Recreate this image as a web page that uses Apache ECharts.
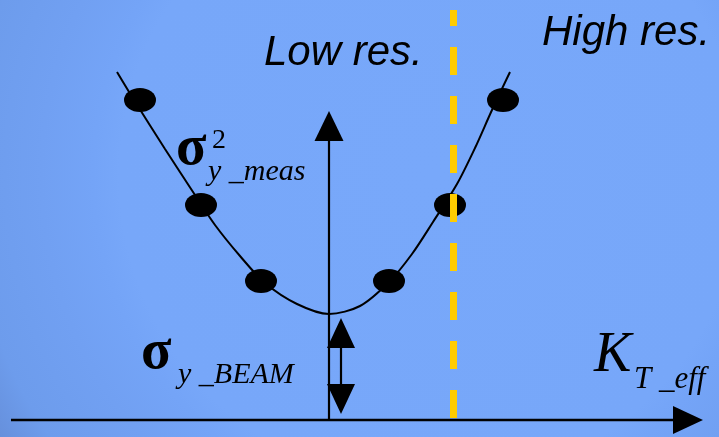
<!DOCTYPE html>
<html>
<head>
<meta charset="utf-8">
<style>
  html, body { margin: 0; padding: 0; }
  #chart { width: 719px; height: 437px; }
</style>
<script src="https://cdn.jsdelivr.net/npm/echarts@6/dist/echarts.min.js"></script>
</head>
<body>
<div id="chart"></div>
<script>
// Measured beam size vs. effective focusing strength K_T_eff.
// Units: arbitrary, origin at the crossing of the two axes.

// Fitted curve (sigma^2_y_meas) sampled along its length
const curveX = [-21.2, -19.5, -16.4, -13.4, -11.4, -8.9, -6.4, -3.2, 0.0, 3.1, 6.0, 8.3, 10.4, 12.8, 14.6, 16.3, 18.1];
const curveY = [34.8, 32.0, 27.1, 22.5, 19.5, 16.4, 13.7, 11.6, 10.6, 11.4, 13.8, 16.6, 19.8, 23.6, 27.2, 31.0, 34.8];

// Measurement points
const pointX = [-18.9, -12.8, -6.8, 6.0, 12.1, 17.4];
const pointY = [32.0, 21.5, 13.9, 13.9, 21.5, 32.0];

// Boundary between low and high resolution regimes
const boundaryK = 12.45;
const boundaryY = [0.2, 41.0];

// Arrows: [x0, y0, x1, y1, heads] (heads: 1 = at end, 2 = both ends)
const arrows = [
  [-31.8, 0, 37.4, 0, 1],      // K_T_eff axis
  [0, 0, 0, 30.9, 1],          // sigma^2 axis
  [1.2, 10.2, 1.2, 0.6, 2]     // sigma_y_BEAM span
];
const arrowStyles = [
  { len: 30, wid: 28, lw: 2.6 },
  { len: 30, wid: 29, lw: 2.2 },
  { len: 30, wid: 28, lw: 2.2 }
];

function zip(a, b) { return a.map((v, i) => [v, b[i]]); }

function renderArrow(params, api) {
  const st = arrowStyles[params.dataIndex];
  const p0 = api.coord([api.value(0), api.value(1)]);
  const p1 = api.coord([api.value(2), api.value(3)]);
  const heads = api.value(4);
  const dx = p1[0] - p0[0], dy = p1[1] - p0[1];
  const L = Math.sqrt(dx * dx + dy * dy);
  const ux = dx / L, uy = dy / L;
  const nx = -uy, ny = ux;
  const head = (tip, sx, sy) => {
    const bx = tip[0] - sx * st.len, by = tip[1] - sy * st.len;
    return {
      type: 'polygon',
      shape: { points: [tip, [bx + nx * st.wid / 2, by + ny * st.wid / 2], [bx - nx * st.wid / 2, by - ny * st.wid / 2]] },
      style: { fill: '#000' }
    };
  };
  const children = [];
  let s = p0;
  const e = [p1[0] - ux * st.len * 0.9, p1[1] - uy * st.len * 0.9];
  if (heads === 2) s = [p0[0] + ux * st.len * 0.9, p0[1] + uy * st.len * 0.9];
  children.push({
    type: 'line',
    shape: { x1: s[0], y1: s[1], x2: e[0], y2: e[1] },
    style: { stroke: '#000', lineWidth: st.lw }
  });
  children.push(head(p1, ux, uy));
  if (heads === 2) children.push(head(p0, -ux, -uy));
  return { type: 'group', children: children };
}

const serif = '"Liberation Serif", "Times New Roman", serif';
const sans = '"Liberation Sans", Arial, sans-serif';
function label(text, x, y, font) {
  return { type: 'text', x: x, y: y, silent: true,
    style: { text: text, font: font, fill: '#000', align: 'left', verticalAlign: 'middle' } };
}

const chart = echarts.init(document.getElementById('chart'), null, { renderer: 'canvas' });
chart.setOption({
  animation: false,
  backgroundColor: {
    type: 'radial', x: 0.6, y: 0.4, r: 1.19,
    colorStops: [
      { offset: 0, color: '#78A8FA' },
      { offset: 0.6, color: '#77A7F9' },
      { offset: 0.65, color: '#74A4F7' },
      { offset: 0.75, color: '#71A0F2' },
      { offset: 0.89, color: '#6D9CEC' },
      { offset: 0.97, color: '#6690DC' },
      { offset: 1, color: '#648EDA' }
    ]
  },
  grid: { left: 0, right: 0, top: 0, bottom: 0 },
  xAxis: { type: 'value', min: -32.9, max: 39.0, show: false },
  yAxis: { type: 'value', min: -1.7, max: 42.0, show: false },
  series: [
    {
      type: 'line', z: 2, data: zip(curveX, curveY), smooth: 0.3,
      showSymbol: false, silent: true,
      lineStyle: { color: '#000', width: 2 }
    },
    {
      type: 'scatter', z: 3, data: zip(pointX, pointY),
      symbol: 'circle', symbolSize: [32, 24], silent: true,
      itemStyle: { color: '#000', opacity: 1 }
    },
    {
      type: 'custom', z: 4, data: arrows, renderItem: renderArrow, silent: true
    },
    {
      type: 'line', z: 5, data: [[boundaryK, boundaryY[0]], [boundaryK, boundaryY[1]]],
      showSymbol: false, silent: true,
      lineStyle: { color: '#FFCC00', width: 7, type: [28, 21], cap: 'butt' }
    }
  ],
  graphic: [
    label('Low res.', 264, 53.5, 'italic 42px ' + sans),
    label('High res.', 542, 33.5, 'italic 42px ' + sans),
    label('σ', 176, 149.1, 'bold 56px ' + serif),
    label('2', 212, 140.5, '28px ' + serif),
    label('y _meas', 208, 171.9, 'italic 30px ' + serif),
    label('σ', 141, 353.1, 'bold 56px ' + serif),
    label('y _BEAM', 178, 374.9, 'italic 30px ' + serif),
    label('K', 594, 356.1, 'italic 56px ' + serif),
    label('T _eff', 634, 379.9, 'italic 31px ' + serif)
  ]
});
</script>
</body>
</html>
